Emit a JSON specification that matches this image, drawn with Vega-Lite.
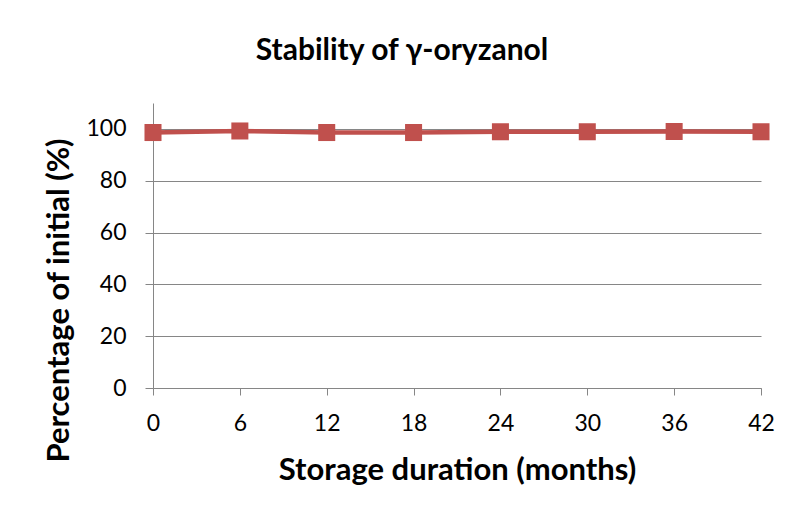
{
  "$schema": "https://vega.github.io/schema/vega-lite/v6.json",
  "autosize": "none",
  "width": 608,
  "height": 285,
  "padding": {"left": 153, "top": 103, "right": 29, "bottom": 122},
  "background": "white",
  "config": {
    "font": "Lato",
    "view": {"stroke": null}
  },
  "title": {
    "text": "Stability of γ-oryzanol",
    "font": "Lato",
    "fontSize": 30,
    "fontWeight": "bold",
    "color": "black",
    "anchor": "middle",
    "frame": "group",
    "dx": -55,
    "baseline": "middle",
    "offset": 22
  },
  "data": {
    "values": [
      {"month": 0, "pct": 98.6},
      {"month": 6, "pct": 99.2},
      {"month": 12, "pct": 98.6},
      {"month": 18, "pct": 98.6},
      {"month": 24, "pct": 98.9},
      {"month": 30, "pct": 98.9},
      {"month": 36, "pct": 99.0},
      {"month": 42, "pct": 98.9}
    ]
  },
  "encoding": {
    "x": {
      "field": "month",
      "type": "quantitative",
      "scale": {"domain": [0, 42], "nice": false, "zero": false},
      "axis": {
        "title": "Storage duration (months)",
        "values": [0, 6, 12, 18, 24, 30, 36, 42],
        "grid": false,
        "domainColor": "#868686",
        "tickColor": "#868686",
        "tickSize": 7,
        "labelFontSize": 23,
        "labelColor": "black",
        "labelPadding": 17,
        "labelFlush": false,
        "titleFontSize": 31,
        "titleFontWeight": "bold",
        "titleColor": "black",
        "titleBaseline": "middle",
        "titleY": 82
      }
    },
    "y": {
      "field": "pct",
      "type": "quantitative",
      "scale": {"domain": [0, 110], "nice": false},
      "axis": {
        "title": "Percentage of initial (%)",
        "values": [0, 20, 40, 60, 80, 100],
        "grid": true,
        "gridColor": "#868686",
        "domainColor": "#868686",
        "tickColor": "#868686",
        "tickSize": 8,
        "labelFontSize": 23,
        "labelColor": "black",
        "labelPadding": 19,
        "titleFontSize": 31,
        "titleFontWeight": "bold",
        "titleColor": "black",
        "titleAngle": -90,
        "titleBaseline": "middle",
        "titleAlign": "center",
        "titleX": -94,
        "titleY": 197
      }
    }
  },
  "layer": [
    {
      "mark": {"type": "line", "color": "#C0504D", "strokeWidth": 4.5}
    },
    {
      "mark": {"type": "point", "shape": "square", "filled": true, "color": "#C0504D", "opacity": 1, "size": 290}
    }
  ]
}
